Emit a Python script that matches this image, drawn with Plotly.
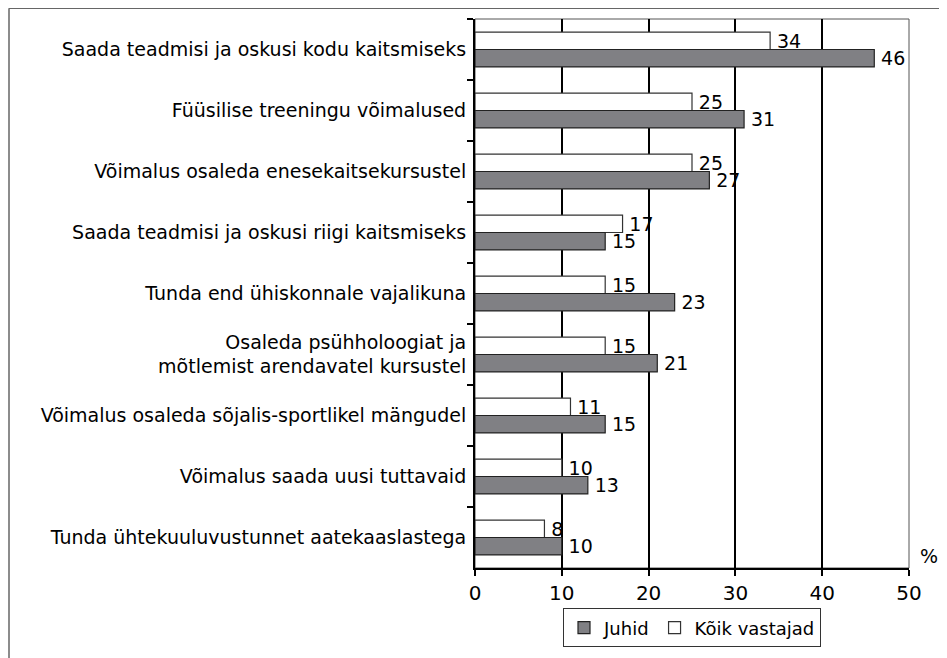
import plotly.graph_objects as go

categories = [
    "Saada teadmisi ja oskusi kodu kaitsmiseks",
    "Füüsilise treeningu võimalused",
    "Võimalus osaleda enesekaitsekursustel",
    "Saada teadmisi ja oskusi riigi kaitsmiseks",
    "Tunda end ühiskonnale vajalikuna",
    "Osaleda psühholoogiat ja<br>mõtlemist arendavatel kursustel",
    "Võimalus osaleda sõjalis-sportlikel mängudel",
    "Võimalus saada uusi tuttavaid",
    "Tunda ühtekuuluvustunnet aatekaaslastega",
]
koik_vastajad = [34, 25, 25, 17, 15, 15, 11, 10, 8]
juhid = [46, 31, 27, 15, 23, 21, 15, 13, 10]
x_ticks = [0, 10, 20, 30, 40, 50]

FONT = "DejaVu Sans"
OFF = 8  # page body margin
W, H = 947 - OFF, 658 - OFF
L, T = 475 - OFF, 19 - OFF
R = W - (909 - OFF)
B = H - (577 - OFF)

fig = go.Figure()
fig.add_trace(go.Bar(
    y=categories, x=koik_vastajad, orientation="h", name="Kõik vastajad",
    marker=dict(color="white", line=dict(color="#333333", width=1.2)),
    texttemplate="\u2009%{x}", textposition="outside", cliponaxis=False, constraintext="none",
    textfont=dict(size=19, color="black", family=FONT), legendrank=2,
))
fig.add_trace(go.Bar(
    y=categories, x=juhid, orientation="h", name="Juhid",
    marker=dict(color="#808084", line=dict(color="#222222", width=1.2)),
    texttemplate="\u2009%{x}", textposition="outside", cliponaxis=False, constraintext="none",
    textfont=dict(size=19, color="black", family=FONT), legendrank=1,
))

pw = W - L - R
ph = H - T - B
def px_x(p):
    return (p - OFF - L) / pw
def px_y(p):
    return (H - B - (p - OFF)) / ph

shapes = [
    dict(type="line", xref="paper", yref="paper", x0=px_x(9), x1=px_x(960), y0=px_y(8), y1=px_y(8),
         line=dict(color="#666666", width=1.5)),
    dict(type="line", xref="paper", yref="paper", x0=px_x(9), x1=px_x(9), y0=px_y(8), y1=px_y(670),
         line=dict(color="#666666", width=1.5)),
    dict(type="rect", xref="paper", yref="paper", x0=0, x1=1, y0=0, y1=1,
         line=dict(color="#555555", width=1), layer="below"),
]

fig.update_layout(
    width=W, height=H,
    margin=dict(l=L, r=R, t=T, b=B),
    paper_bgcolor="white", plot_bgcolor="white",
    barmode="group", bargap=0.43, bargroupgap=0,
    font=dict(family=FONT, size=19, color="black"),
    showlegend=True,
    legend=dict(orientation="h", x=0.5, xanchor="center", y=px_y(618), yanchor="top",
                bordercolor="#333333", borderwidth=1, font=dict(size=18, family=FONT),
                itemwidth=30, tracegroupgap=0),
    shapes=shapes,
    annotations=[dict(text="%", xref="paper", yref="paper", x=px_x(929), y=px_y(565),
                      xanchor="center", yanchor="middle",
                      showarrow=False, font=dict(size=19, family=FONT))],
)
fig.update_xaxes(range=[0, 50], tickvals=x_ticks, ticks="outside", ticklen=6, tickwidth=1.5,
                 tickcolor="black", showline=True, linecolor="black", linewidth=2,
                 showgrid=True, gridcolor="black", gridwidth=2, zeroline=False,
                 tickfont=dict(size=20, family=FONT))
fig.update_yaxes(autorange="reversed", ticks="outside", tickson="boundaries", ticklen=6,
                 tickwidth=1.5, tickcolor="black", showline=True, linecolor="black", linewidth=2,
                 showgrid=False, tickfont=dict(size=19, family=FONT), ticklabelstandoff=3)

fig.write_html("out.html")
